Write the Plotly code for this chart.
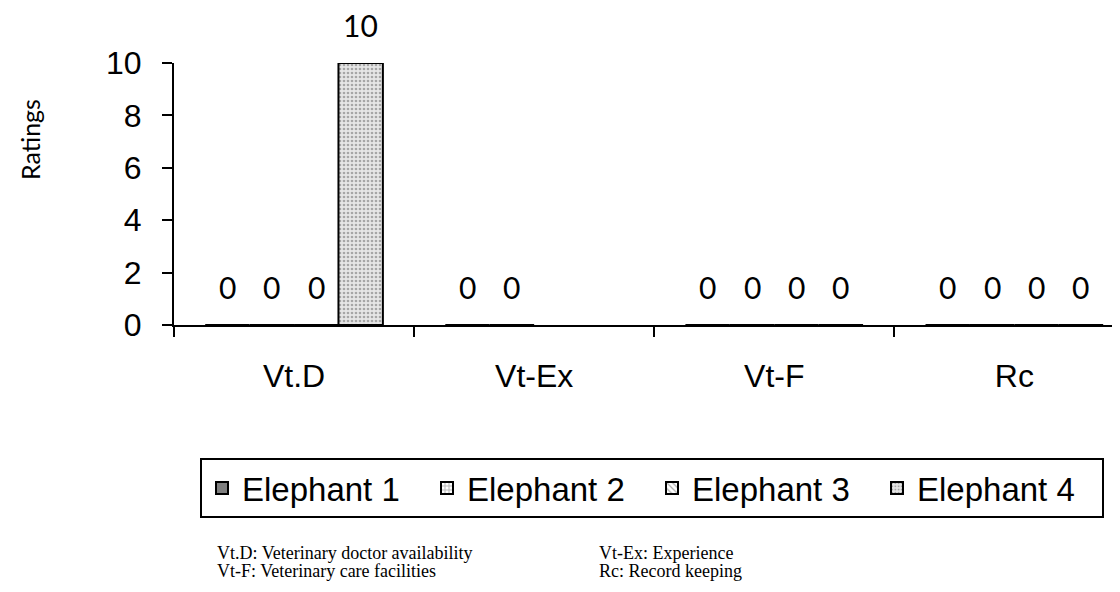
import plotly.graph_objects as go

categories = ["Vt.D", "Vt-Ex", "Vt-F", "Rc"]
series_names = ["Elephant 1", "Elephant 2", "Elephant 3", "Elephant 4"]
elephant1 = [0, 0, 0, 0]
elephant2 = [0, 0, 0, 0]
elephant3 = [0, None, 0, 0]
elephant4 = [10, None, 0, 0]
values = [elephant1, elephant2, elephant3, elephant4]
y_ticks = [0, 2, 4, 6, 8, 10]
footnotes = [
    "Vt.D: Veterinary doctor availability",
    "Vt-Ex: Experience",
    "Vt-F: Veterinary care facilities",
    "Rc: Record keeping",
]

# the page body has an 8px margin, so the figure is offset by 8px
OFF = 8
W, H = 1112, 584
ML, MR, MT = 166, 0, 55
PLOT_BOTTOM = 325 - OFF
MB = H - PLOT_BOTTOM
BARGAP = 0.26
X_RANGE = [-0.5, 3.44]
plot_w = W - ML - MR
plot_h = H - MT - MB


def px_x(sx):
    return (sx - OFF - ML) / plot_w


def px_y(sy):
    return (PLOT_BOTTOM - (sy - OFF)) / plot_h


styles = [
    dict(color="#808080", pattern=dict(shape="")),
    dict(color="white", pattern=dict(shape="+", fgcolor="#707070", bgcolor="white", size=5, solidity=0.45)),
    dict(color="white", pattern=dict(shape="\\", fgcolor="#606060", bgcolor="white", size=5, solidity=0.3)),
    dict(color="white", pattern=dict(shape=".", fgcolor="#666666", bgcolor="#e6e6e6", size=4, solidity=0.35)),
]

fig = go.Figure()
for name, vals, st in zip(series_names, values, styles):
    fig.add_trace(go.Bar(
        name=name, x=categories, y=vals,
        marker=dict(color=st["color"], pattern=st["pattern"],
                    line=dict(color="black", width=2)),
    ))

# data labels via annotations on the data axes
px_per_cat = plot_w / (X_RANGE[1] - X_RANGE[0])
slot = px_per_cat * (1 - BARGAP) / len(series_names)
for i, vals in enumerate(values):
    for cat, v in zip(categories, vals):
        if v is None:
            continue
        fig.add_annotation(
            x=cat, y=v, xref="x", yref="y", text=str(v), showarrow=False,
            xshift=(i - 1.5) * slot, yshift=38, yanchor="middle",
            font=dict(family="Lato", size=30, color="black"),
        )

fig.update_layout(
    width=W, height=H,
    margin=dict(l=ML, r=MR, t=MT, b=MB, pad=0),
    plot_bgcolor="white", paper_bgcolor="white",
    barmode="group", bargap=BARGAP, bargroupgap=0,
    font=dict(family="Liberation Sans, Arial", size=32, color="black"),
    showlegend=True,
    legend=dict(
        orientation="h", x=px_x(200), xanchor="left",
        y=px_y(458), yanchor="top",
        bordercolor="black", borderwidth=2, bgcolor="white",
        font=dict(family="Liberation Sans, Arial", size=33, color="black"),
        entrywidth=180,
    ),
)

fig.update_xaxes(
    range=X_RANGE, showline=True, linecolor="black", linewidth=2,
    ticks="outside", tickson="boundaries", ticklen=10, tickwidth=2, tickcolor="black",
    showgrid=False, zeroline=False, ticklabelstandoff=22,
    tickfont=dict(family="Liberation Sans, Arial", size=32),
)
fig.update_yaxes(
    range=[0, 10], tickvals=y_ticks, showline=True, linecolor="black", linewidth=2,
    ticks="outside", ticklen=10, tickwidth=2, tickcolor="black",
    showgrid=False, zeroline=False, ticklabelstandoff=14,
    tickfont=dict(family="Liberation Sans, Arial", size=32),
)

# y-axis title
fig.add_annotation(
    text="Ratings", xref="paper", yref="paper",
    x=px_x(30), y=px_y(140),
    textangle=-90, showarrow=False, xanchor="center", yanchor="middle",
    font=dict(family="Lato", size=25, color="black"),
)

# footnotes
fn_cols = [215, 597]
fn_rows = [553, 571]
for k, txt in enumerate(footnotes):
    col = k % 2
    row = k // 2
    fig.add_annotation(
        text=txt, xref="paper", yref="paper",
        x=px_x(fn_cols[col]), y=px_y(fn_rows[row]),
        xanchor="left", yanchor="middle", showarrow=False,
        font=dict(family="Liberation Serif, Times New Roman", size=18, color="black"),
    )

fig.write_html("out.html")
